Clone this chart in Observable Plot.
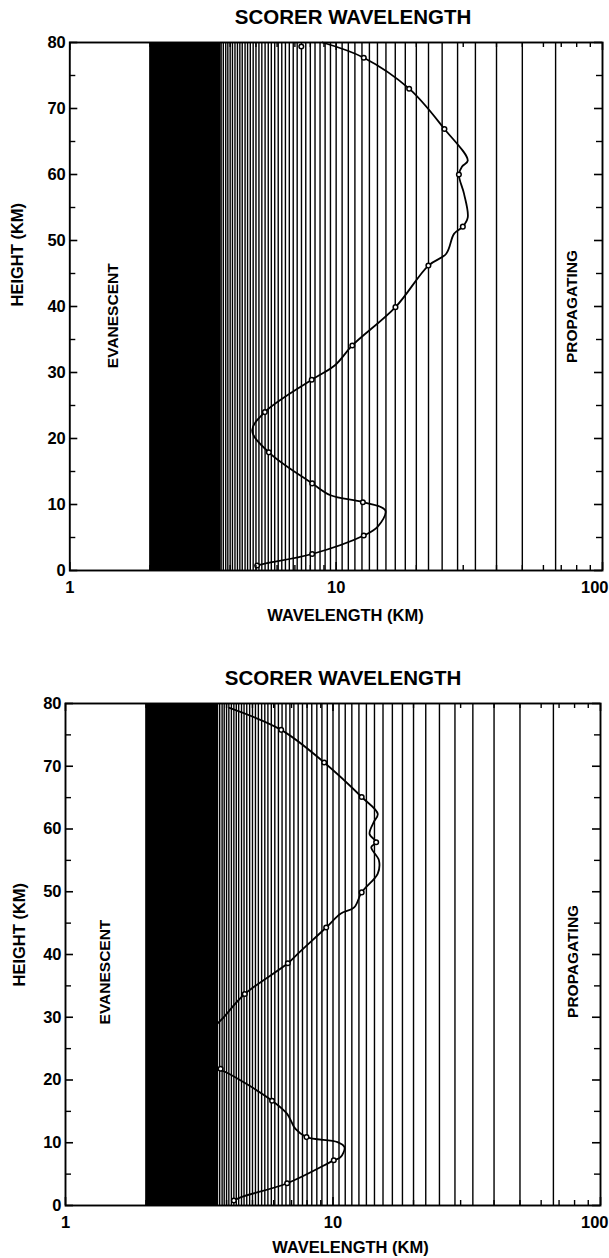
<!DOCTYPE html>
<html>
<head>
<meta charset="utf-8">
<script src="https://cdn.jsdelivr.net/npm/d3@7"></script>
<script src="https://cdn.jsdelivr.net/npm/@observablehq/plot@0.6"></script>
<style>
  body { margin: 0; background: #fff; }
  #wrap { position: relative; width: 609px; height: 1258px; overflow: hidden; font-family: "Liberation Sans", Arial, sans-serif; background: #fff; }
  .title { position: absolute; left: 0; text-align: center; font-weight: bold; font-size: 20.5px; line-height: 20px; color: #000; white-space: nowrap; }
  .panel { position: absolute; left: 0; }
</style>
</head>
<body>
<div id="wrap"></div>
<script>
// ---------- data ----------
const titleText = "SCORER WAVELENGTH";
const xAxisLabel = "WAVELENGTH (KM)";
const yAxisLabel = "HEIGHT (KM)";

// wavelengths (km) of the vertical lines: equally spaced wavenumbers
const gridWavelengths = [
  66.67, 50, 40, 33.33, 28.57, 25, 22.22, 20, 18.18, 16.67, 15.38, 14.29, 13.33, 12.5,
  11.76, 11.11, 10.53, 10, 9.52, 9.09, 8.70, 8.33, 8, 7.69, 7.41, 7.14, 6.90, 6.67,
  6.45, 6.25, 6.06, 5.88, 5.71, 5.56, 5.41, 5.26, 5.13, 5, 4.88, 4.76, 4.65, 4.55,
  4.44, 4.35, 4.26, 4.17, 4.08, 4, 3.92, 3.85, 3.77, 3.70, 3.64, 3.57, 3.51, 3.45,
  3.39, 3.33, 3.28, 3.23, 3.17, 3.13, 3.08, 3.03, 2.99, 2.94, 2.90, 2.86, 2.82, 2.78,
  2.74, 2.70, 2.67, 2.63, 2.60, 2.56, 2.53, 2.50, 2.47, 2.44, 2.41, 2.38, 2.35, 2.33,
  2.30, 2.27, 2.25, 2.22, 2.20, 2.17, 2.15, 2.13, 2.11, 2.08, 2.06, 2.04, 2.02, 2.00
];
// solid black (fully dense) wavelength band
const denseBand = [2, 3.7];

const yLabelTicks = [0, 10, 20, 30, 40, 50, 60, 70, 80];
const yMinorTicks = [5, 15, 25, 35, 45, 55, 65, 75];
const xLabelTicks = [1, 10];
const xEdgeLabelTicks = [100];
const xMajorTicks = [1, 10, 100];
const xMinorTicks = [2, 3, 4, 5, 6, 7, 8, 9, 20, 30, 40, 50, 60, 70, 80, 90];

const regionLabels = ["EVANESCENT", "PROPAGATING"];

// top panel: [wavelength km, height km]
const topCurve = [
  [8.9, 80], [12.7, 77.7], [18.8, 73.0], [25.5, 66.9], [31.2, 62.1], [29.7, 61.2],
  [28.9, 60.0], [30.2, 57.1], [31.2, 53.5], [29.9, 52.1], [27.7, 51.0], [25.9, 48.0],
  [22.2, 46.2], [16.7, 39.9], [11.5, 34.1], [9.9, 31.1], [8.1, 28.9], [5.4, 24.0],
  [4.84, 21.2], [5.59, 17.9], [8.13, 13.2], [9.53, 11.4], [12.6, 10.35], [15.3, 9.1],
  [14.3, 6.6], [12.7, 5.3], [8.13, 2.5], [5.35, 1.0], [5.05, 0.75]
];
const topMarkers = [
  [7.4, 79.4], [12.7, 77.7], [18.8, 73.0], [25.5, 66.9], [28.9, 60.0], [29.9, 52.1],
  [22.2, 46.2], [16.7, 39.9], [11.5, 34.1], [8.1, 28.9], [5.4, 24.0], [5.59, 17.9],
  [8.13, 13.2], [12.6, 10.35], [12.7, 5.3], [8.13, 2.5], [5.05, 0.75]
];

// bottom panel
const bottomCurve = [
  [4.1, 79.3], [6.4, 75.8], [9.27, 70.6], [12.8, 65.1], [14.7, 62.4], [14.2, 61.1],
  [13.7, 59.2], [14.5, 57.9], [13.9, 57.1], [14.85, 55.0], [14.7, 52.9], [12.8, 49.9],
  [12.0, 47.5], [10.67, 46.5], [9.43, 44.3], [7.38, 40.1], [6.78, 38.6], [4.68, 33.7],
  [3.96, 30.3], [3.3, 26], [3.6, 22.0], [4.0, 21.2], [5.92, 16.7], [6.74, 14.6],
  [7.24, 12.2], [7.96, 10.9], [10.4, 10.1], [11.04, 9.3], [10.67, 7.7], [10.07, 7.2],
  [6.74, 3.55], [4.51, 1.3], [4.26, 0.8]
];
const bottomMarkers = [
  [6.4, 75.8], [9.27, 70.6], [12.8, 65.1], [14.5, 57.9], [12.8, 49.9], [9.43, 44.3],
  [6.78, 38.6], [4.68, 33.7], [3.8, 21.8], [5.92, 16.7], [7.96, 10.9], [10.07, 7.2],
  [6.74, 3.55], [4.26, 0.8]
];

// ---------- drawing ----------
const FONT = "'Liberation Sans', Arial, sans-serif";

function panel(cfg) {
  const W = 609;
  const plotW = W - cfg.ml - cfg.mr;
  const plotH = cfg.height - cfg.mt - cfg.mb;
  const regions = [
    {text: regionLabels[0], x: cfg.evan[0], y: cfg.evan[1]},
    {text: regionLabels[1], x: cfg.prop[0], y: cfg.prop[1]}
  ];
  const tickFont = {fontSize: 16.5, fontWeight: "bold"};
  return Plot.plot({
    width: W,
    height: cfg.height,
    marginTop: cfg.mt, marginBottom: cfg.mb, marginLeft: cfg.ml, marginRight: cfg.mr,
    x: {type: "log", domain: [1, 100]},
    y: {domain: [0, 80]},
    style: {fontFamily: FONT, fontWeight: "bold", color: "black", background: "white", overflow: "visible"},
    marks: [
      Plot.rect([denseBand], {x1: d => d[0], x2: d => d[1], fill: "black"}),
      Plot.ruleX(gridWavelengths, {x: d => d, stroke: "black", strokeWidth: 1.4}),
      Plot.line(cfg.curve, {x: d => d[0], y: d => d[1], curve: "catmull-rom", stroke: "black", strokeWidth: 1.8}),
      Plot.dot(cfg.markers, {x: d => d[0], y: d => d[1], r: 2.3, fill: "white", stroke: "black", strokeWidth: 1.5}),
      Plot.frame({stroke: "black", strokeWidth: 1.9}),
      // inward ticks, left and right
      Plot.tickY(yLabelTicks, {y: d => d, insetRight: plotW - 8, stroke: "black", strokeWidth: 1.6}),
      Plot.tickY(yLabelTicks, {y: d => d, insetLeft: plotW - 8, stroke: "black", strokeWidth: 1.6}),
      Plot.tickY(yMinorTicks, {y: d => d, insetRight: plotW - 6, stroke: "black", strokeWidth: 1.4}),
      Plot.tickY(yMinorTicks, {y: d => d, insetLeft: plotW - 6, stroke: "black", strokeWidth: 1.4}),
      // inward ticks, bottom and top
      Plot.tickX(xMinorTicks, {x: d => d, insetTop: plotH - 5, stroke: "black", strokeWidth: 1.4}),
      Plot.tickX(xMinorTicks, {x: d => d, insetBottom: plotH - 5, stroke: "black", strokeWidth: 1.4}),
      Plot.tickX(xMajorTicks, {x: d => d, insetTop: plotH - 8, stroke: "black", strokeWidth: 1.6}),
      Plot.tickX(xMajorTicks, {x: d => d, insetBottom: plotH - 8, stroke: "black", strokeWidth: 1.6}),
      // tick labels
      Plot.axisY({ticks: yLabelTicks, tickSize: 0, tickPadding: 4, tickFormat: d => String(d), label: null, ...tickFont}),
      Plot.axisX({ticks: xLabelTicks, tickSize: 0, tickPadding: 11, tickFormat: d => String(d), label: null, ...tickFont}),
      Plot.axisX({ticks: xEdgeLabelTicks, tickSize: 0, tickPadding: 11, tickFormat: d => String(d), label: null, textAnchor: "end", dx: cfg.mr - 1, ...tickFont}),
      // axis titles
      Plot.text([yAxisLabel], {text: d => d, frameAnchor: "left", dx: cfg.yLab[0], dy: cfg.yLab[1], rotate: -90, fontSize: 16.5, fontWeight: "bold", fill: "black"}),
      Plot.text([xAxisLabel], {text: d => d, frameAnchor: "bottom", dx: cfg.xLab[0], dy: cfg.xLab[1], fontSize: 16.5, fontWeight: "bold", fill: "black", lineAnchor: "middle"}),
      // region labels
      Plot.text(regions, {x: "x", y: "y", text: "text", rotate: -90, fontSize: 15.5, fontWeight: "bold", fill: "black"})
    ]
  });
}

const wrap = document.getElementById("wrap");

function addTitle(top, center) {
  const t = document.createElement("div");
  t.className = "title";
  t.style.top = top + "px";
  t.style.width = (2 * center) + "px";
  t.textContent = titleText;
  wrap.appendChild(t);
}

function addPanel(top, chart) {
  chart.classList.add("panel");
  chart.style.top = top + "px";
  wrap.appendChild(chart);
}

addTitle(7, 353);
addPanel(30, panel({
  height: 600, mt: 12, mb: 60, ml: 69.3, mr: 7,
  curve: topCurve, markers: topMarkers,
  evan: [1.45, 38.6], prop: [77.1, 40],
  yLab: [-52.3, 0], xLab: [9.4, 45]
}));

addTitle(668, 343);
addPanel(690, panel({
  height: 570, mt: 13, mb: 55, ml: 65, mr: 9,
  curve: bottomCurve, markers: bottomMarkers,
  evan: [1.41, 37.2], prop: [79.1, 38.9],
  yLab: [-46.2, 32], xLab: [17.5, 42]
}));
</script>
</body>
</html>
